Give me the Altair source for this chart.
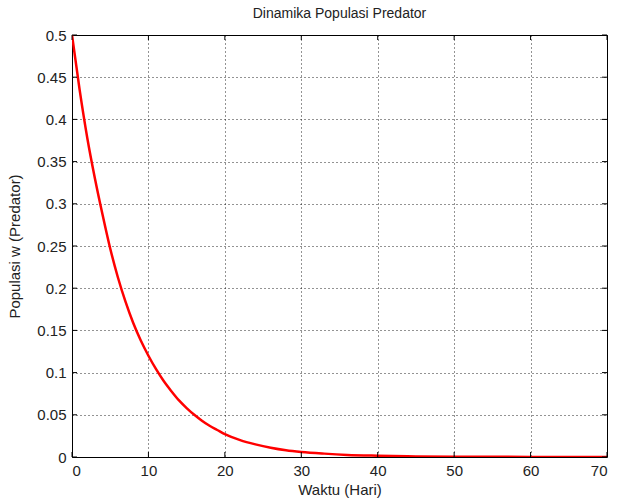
import altair as alt
import pandas as pd

# Predator population w over time (days)
waktu = [0, 1, 2, 3, 4, 5, 6, 7, 8, 9, 10, 11, 12, 13, 14, 15, 16, 17, 18, 19,
         20, 22, 24, 26, 28, 30, 33, 36, 40, 45, 50, 55, 60, 65, 70]
populasi_w = [0.500, 0.435, 0.378, 0.330, 0.287, 0.247, 0.213, 0.184, 0.159, 0.138,
              0.120, 0.104, 0.090, 0.078, 0.067, 0.058, 0.050, 0.043, 0.037, 0.032,
              0.027, 0.020, 0.015, 0.011, 0.008, 0.006, 0.004, 0.0025, 0.0015, 0.0007,
              0.0003, 0.0002, 0.0001, 0.0, 0.0]

x_ticks = [0, 10, 20, 30, 40, 50, 60, 70]
y_ticks = [0, 0.05, 0.1, 0.15, 0.2, 0.25, 0.3, 0.35, 0.4, 0.45, 0.5]

W, H = 535, 422
FONT = "Liberation Sans"
FS = 15

df = pd.DataFrame({"t": waktu, "w": populasi_w})
xt = pd.DataFrame({"v": x_ticks})
yt = pd.DataFrame({"v": y_ticks})

xscale = alt.Scale(domain=[0, 70], nice=False, zero=False)
yscale = alt.Scale(domain=[0, 0.5], nice=False, zero=False)

common = dict(grid=True, gridColor="#000000", gridDash=[1, 3], gridOpacity=0.85,
              ticks=False, domain=False, labelFont=FONT, titleFont=FONT,
              labelFontSize=FS, titleFontSize=FS, labelColor="#222222",
              titleColor="#222222", titleFontWeight="normal")

line = alt.Chart(df).mark_line(color="#ff0000", strokeWidth=2.5, clip=True,
                               interpolate="monotone").encode(
    x=alt.X("t:Q", scale=xscale,
            axis=alt.Axis(values=x_ticks, title="Waktu (Hari)", labelPadding=6,
                          titlePadding=4, format="d", **common)),
    y=alt.Y("w:Q", scale=yscale,
            axis=alt.Axis(values=y_ticks, title="Populasi w (Predator)",
                          labelPadding=6, titlePadding=14,
                          labelExpr="format(datum.value, '~g')", **common)),
)

tk = 5
# inward tick marks on all four sides of the box
xb = alt.Chart(xt).mark_rule(color="#000000").encode(
    x=alt.X("v:Q", scale=xscale), y=alt.value(H), y2=alt.value(H - tk))
xtop = alt.Chart(xt).mark_rule(color="#000000").encode(
    x=alt.X("v:Q", scale=xscale), y=alt.value(0), y2=alt.value(tk))
yl = alt.Chart(yt).mark_rule(color="#000000").encode(
    y=alt.Y("v:Q", scale=yscale), x=alt.value(0), x2=alt.value(tk))
yr = alt.Chart(yt).mark_rule(color="#000000").encode(
    y=alt.Y("v:Q", scale=yscale), x=alt.value(W), x2=alt.value(W - tk))

chart = alt.layer(line, xb, xtop, yl, yr).properties(
    width=W, height=H,
    background="#ffffff",
    title=alt.TitleParams("Dinamika Populasi Predator", font=FONT, fontSize=14,
                          fontWeight="normal", color="#222222", offset=7),
    autosize=alt.AutoSizeParams(type="none"),
    padding={"left": 72, "top": 35, "right": 10, "bottom": 47},
).configure_view(stroke="#000000", strokeWidth=1)

chart.save("out.html", embed_options={"renderer": "svg", "actions": False})
